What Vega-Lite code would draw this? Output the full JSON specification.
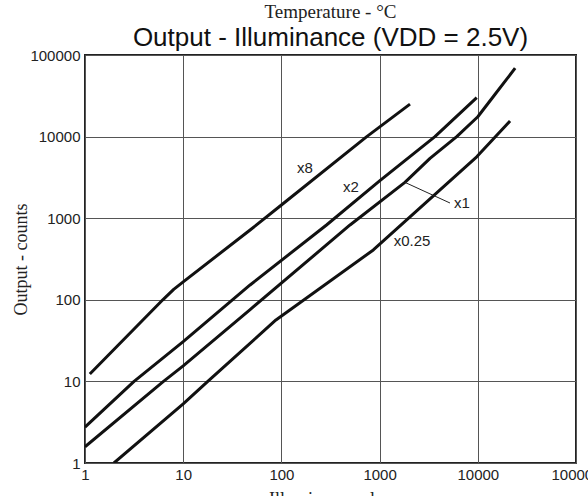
{
  "$schema": "https://vega.github.io/schema/vega-lite/v6.json",
  "autosize": {"type": "none"},
  "padding": {"left": 85, "top": 55, "right": 12, "bottom": 33},
  "width": 491,
  "height": 408,
  "background": "white",
  "title": {
    "text": "Temperature - °C",
    "subtitle": "Output - Illuminance (VDD = 2.5V)",
    "anchor": "middle",
    "font": "Liberation Serif",
    "fontSize": 19,
    "fontWeight": "normal",
    "color": "#222",
    "subtitleFont": "Liberation Sans",
    "subtitleFontSize": 26,
    "subtitleColor": "#111",
    "subtitlePadding": 3,
    "offset": -3
  },
  "config": {
    "view": {"stroke": "#222", "strokeWidth": 2},
    "axis": {
      "labelFont": "Liberation Sans",
      "labelFontSize": 15,
      "labelColor": "#222",
      "titleFont": "Liberation Serif",
      "titleFontSize": 18,
      "titleFontWeight": "normal",
      "titleColor": "#222",
      "ticks": false,
      "domain": false,
      "gridColor": "#555",
      "gridOpacity": 1,
      "gridWidth": 1
    }
  },
  "layer": [
    {
      "data": {"values": [
        {"series": "x8", "lux": 1.12, "counts": 12.3},
        {"series": "x8", "lux": 6.2, "counts": 100},
        {"series": "x8", "lux": 8, "counts": 134},
        {"series": "x8", "lux": 10, "counts": 166},
        {"series": "x8", "lux": 48, "counts": 716},
        {"series": "x8", "lux": 100, "counts": 1450},
        {"series": "x8", "lux": 740, "counts": 10000},
        {"series": "x8", "lux": 2040, "counts": 25000},
        {"series": "x2", "lux": 1, "counts": 2.75},
        {"series": "x2", "lux": 3.16, "counts": 10},
        {"series": "x2", "lux": 10, "counts": 30.7},
        {"series": "x2", "lux": 48, "counts": 152},
        {"series": "x2", "lux": 288, "counts": 826},
        {"series": "x2", "lux": 1000, "counts": 2860},
        {"series": "x2", "lux": 3660, "counts": 10000},
        {"series": "x2", "lux": 9750, "counts": 30000},
        {"series": "x1", "lux": 1, "counts": 1.58},
        {"series": "x1", "lux": 6.3, "counts": 10},
        {"series": "x1", "lux": 10, "counts": 15.5},
        {"series": "x1", "lux": 48, "counts": 76},
        {"series": "x1", "lux": 500, "counts": 826},
        {"series": "x1", "lux": 1810, "counts": 2750},
        {"series": "x1", "lux": 3260, "counts": 5400},
        {"series": "x1", "lux": 6100, "counts": 10000},
        {"series": "x1", "lux": 10000, "counts": 17500},
        {"series": "x1", "lux": 15000, "counts": 33000},
        {"series": "x1", "lux": 24000, "counts": 69000},
        {"series": "x0.25", "lux": 1.97, "counts": 1},
        {"series": "x0.25", "lux": 10, "counts": 5.3},
        {"series": "x0.25", "lux": 17.8, "counts": 10},
        {"series": "x0.25", "lux": 88, "counts": 56.6},
        {"series": "x0.25", "lux": 863, "counts": 408},
        {"series": "x0.25", "lux": 9750, "counts": 5650},
        {"series": "x0.25", "lux": 21300, "counts": 15500}
      ]},
      "mark": {"type": "line", "color": "#111", "strokeWidth": 3, "clip": true, "strokeJoin": "round"},
      "encoding": {
        "x": {
          "field": "lux", "type": "quantitative",
          "scale": {"type": "log", "domain": [1, 100000], "nice": false},
          "axis": {"values": [1, 10, 100, 1000, 10000, 100000], "format": "d", "labelPadding": 4, "title": "Illuminance - lux", "titlePadding": 8, "labelFlush": false, "labelOverlap": false}
        },
        "y": {
          "field": "counts", "type": "quantitative",
          "scale": {"type": "log", "domain": [1, 100000], "nice": false},
          "axis": {"values": [1, 10, 100, 1000, 10000, 100000], "format": "d", "labelPadding": 5, "title": "Output - counts", "titlePadding": -1, "labelFlush": false, "labelOverlap": false}
        },
        "detail": {"field": "series"}
      }
    },
    {
      "data": {"values": [
        {"lux": 1810, "counts": 2750},
        {"lux": 5210, "counts": 1535}
      ]},
      "mark": {"type": "line", "color": "#222", "strokeWidth": 1},
      "encoding": {
        "x": {"field": "lux", "type": "quantitative"},
        "y": {"field": "counts", "type": "quantitative"}
      }
    },
    {
      "data": {"values": [
        {"label": "x8", "lux": 174, "counts": 4120},
        {"label": "x2", "lux": 510, "counts": 2410},
        {"label": "x1", "lux": 6900, "counts": 1535},
        {"label": "x0.25", "lux": 2140, "counts": 525}
      ]},
      "mark": {"type": "text", "font": "Liberation Sans", "fontSize": 15, "color": "#222", "align": "center", "baseline": "middle"},
      "encoding": {
        "x": {"field": "lux", "type": "quantitative"},
        "y": {"field": "counts", "type": "quantitative"},
        "text": {"field": "label"}
      }
    }
  ]
}
